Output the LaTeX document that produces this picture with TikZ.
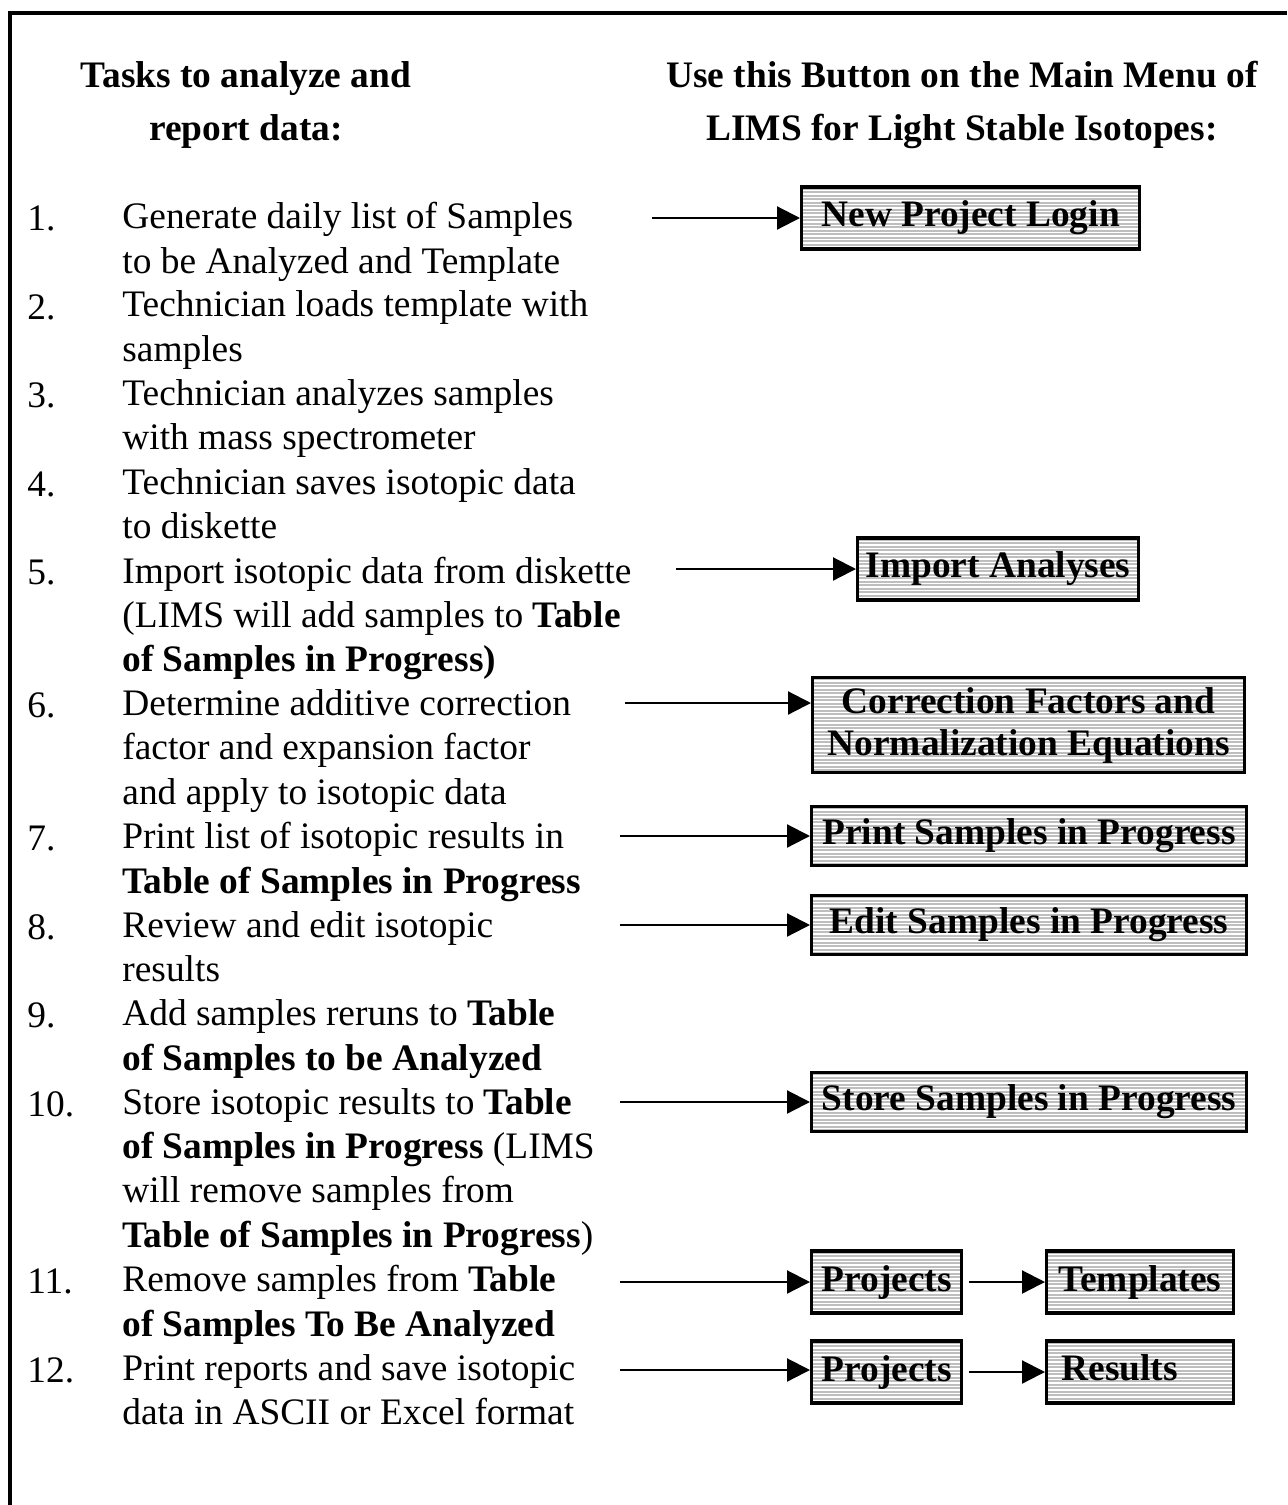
\documentclass[tikz,border=0pt]{standalone}
\usepackage{fontspec}
\setmainfont{Liberation Serif}
\usepackage{tikz}
\usetikzlibrary{arrows.meta,positioning,calc}
\usepackage{xcolor}
\definecolor{btngray}{RGB}{190,190,190}
\newcommand{\taskfont}{\fontsize{18.7pt}{22.15pt}\selectfont}
\newcommand{\headfont}{\fontsize{18.7pt}{26.5pt}\selectfont\bfseries}
\newcommand{\btnfont}{\fontsize{18.7pt}{21pt}\selectfont\bfseries}
\newcommand{\tstrut}{\rule{0pt}{14pt}}
\tikzstyle{arrow} = [line width=1.1pt,-{Triangle[length=11.5pt,width=11.5pt]}]
\tikzstyle{frame} = [line width=2pt]
\tikzstyle{heading} = [anchor=north, align=center, inner sep=0pt, font=\headfont, execute at begin node=\tstrut]
\tikzstyle{task} = [anchor=north west, align=left, inner sep=0pt, font=\taskfont, execute at begin node=\tstrut]
\tikzstyle{tasknum} = [anchor=north west, align=left, inner sep=0pt, font=\taskfont, execute at begin node=\tstrut]
\tikzstyle{button} = [rectangle, draw, line width=1.6pt, fill=btngray, anchor=west, minimum height=31pt, inner xsep=4pt, inner ysep=2pt, align=center, font=\btnfont,
  path picture={\foreach \k in {0,1.75,...,60} \draw[white,line width=0.55pt] ([yshift=-\k pt]path picture bounding box.north west) -- ([yshift=-\k pt]path picture bounding box.north east);}]

\begin{document}
\begin{tikzpicture}[x=0.5pt, y=-0.5pt]
    \useasboundingbox (0,0) rectangle (1287,1505);
    % Frame
    \draw[frame] (10,1505) -- (10,13) -- (1287,13);

    % Headings
    \node[heading] (hTasks) at (246,61) {Tasks to analyze and\\report data:};
    \node[heading] (hMenu) at (962,61) {Use this Button on the Main Menu of\\LIMS for Light Stable Isotopes:};

    % Tasks
    \node[tasknum] (n1) at (27,202) {1.};
    \node[task] (t1) at (122,202) {Generate daily list of Samples\\to be Analyzed and Template};
    \node[tasknum] (n2) at (27,290.6) {2.};
    \node[task] (t2) at (122,290.6) {Technician loads template with\\samples};
    \node[tasknum] (n3) at (27,379.2) {3.};
    \node[task] (t3) at (122,379.2) {Technician analyzes samples\\with mass spectrometer};
    \node[tasknum] (n4) at (27,467.8) {4.};
    \node[task] (t4) at (122,467.8) {Technician saves isotopic data\\to diskette};
    \node[tasknum] (n5) at (27,556.4) {5.};
    \node[task] (t5) at (122,556.4) {Import isotopic data from diskette\\(LIMS will add samples to \textbf{Table}\\\textbf{of Samples in Progress)}};
    \node[tasknum] (n6) at (27,689.3) {6.};
    \node[task] (t6) at (122,689.3) {Determine additive correction\\factor and expansion factor\\and apply to isotopic data};
    \node[tasknum] (n7) at (27,822.2) {7.};
    \node[task] (t7) at (122,822.2) {Print list of isotopic results in\\\textbf{Table of Samples in Progress}};
    \node[tasknum] (n8) at (27,910.8) {8.};
    \node[task] (t8) at (122,910.8) {Review and edit isotopic\\results};
    \node[tasknum] (n9) at (27,999.4) {9.};
    \node[task] (t9) at (122,999.4) {Add samples reruns to \textbf{Table}\\\textbf{of Samples to be Analyzed}};
    \node[tasknum] (n10) at (27,1088) {10.};
    \node[task] (t10) at (122,1088) {Store isotopic results to \textbf{Table}\\\textbf{of Samples in Progress} (LIMS\\will remove samples from\\\textbf{Table of Samples in Progress})};
    \node[tasknum] (n11) at (27,1265.2) {11.};
    \node[task] (t11) at (122,1265.2) {Remove samples from \textbf{Table}\\\textbf{of Samples To Be Analyzed}};
    \node[tasknum] (n12) at (27,1353.8) {12.};
    \node[task] (t12) at (122,1353.8) {Print reports and save isotopic\\data in ASCII or Excel format};

    % Buttons
    \node[button, minimum width=169pt] (bLogin) at (800,218) {New Project Login};
    \node[button, minimum width=140pt] (bImport) at (856,569) {Import Analyses};
    \node[button, minimum width=216pt, minimum height=47.5pt] (bCorrect) at (811,725) {Correction Factors and\\Normalization Equations};
    \node[button, minimum width=217.5pt, minimum height=29.5pt] (bPrint) at (810,836) {Print Samples in Progress};
    \node[button, minimum width=217.5pt, minimum height=29.5pt] (bEdit) at (810,925) {Edit Samples in Progress};
    \node[button, minimum width=217.5pt, minimum height=29.5pt] (bStore) at (810,1102) {Store Samples in Progress};
    \node[button, minimum width=75pt] (bProj1) at (810,1282) {Projects};
    \node[button, minimum width=93.5pt] (bTempl) at (1045,1282) {Templates};
    \node[button, minimum width=75pt] (bProj2) at (810,1372) {Projects};
    \node[button, inner xsep=7.5pt, text width=78.5pt, align=left, text height=12.7pt, text depth=4pt] (bResults) at (1045,1372) {Results};

    % Arrow starts
    \coordinate (s1) at (652,218);
    \coordinate (s5) at (676,569);
    \coordinate (s6) at (625,703);
    \coordinate (s7) at (620,836);
    \coordinate (s8) at (620,925);
    \coordinate (s10) at (620,1102);
    \coordinate (s11) at (620,1282);
    \coordinate (s12) at (620,1370);

    % Arrows
    \draw[arrow] (s1) -- (s1 -| bLogin.west);
    \draw[arrow] (s5) -- (s5 -| bImport.west);
    \draw[arrow] (s6) -- (s6 -| bCorrect.west);
    \draw[arrow] (s7) -- (s7 -| bPrint.west);
    \draw[arrow] (s8) -- (s8 -| bEdit.west);
    \draw[arrow] (s10) -- (s10 -| bStore.west);
    \draw[arrow] (s11) -- (s11 -| bProj1.west);
    \draw[arrow] (s12) -- (s12 -| bProj2.west);
    \draw[arrow, shorten <=3pt] (bProj1) -- (bTempl);
    \draw[arrow, shorten <=3pt] (bProj2) -- (bResults);
\end{tikzpicture}
\end{document}
